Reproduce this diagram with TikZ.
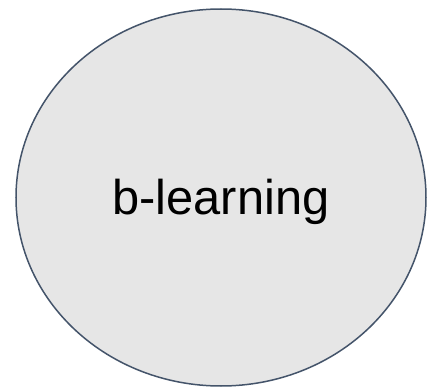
\documentclass[tikz,border=0pt]{standalone}
\usepackage{fontspec}
\setmainfont{Liberation Sans}
\usetikzlibrary{shapes.geometric}
\definecolor{ellfill}{HTML}{E6E6E6}
\definecolor{elldraw}{HTML}{44546A}
\tikzset{blob/.style={ellipse, draw=elldraw, fill=ellfill, line width=1.5bp, minimum width=410bp, minimum height=377bp, inner sep=0pt}}
\begin{document}
\begin{tikzpicture}[x=1bp,y=1bp]
\useasboundingbox (0,0) rectangle (431,388);
\node[blob] (e) at (221,190.5) {};
\node[anchor=base, font=\fontsize{49}{58}\selectfont, inner sep=0pt] (t) at (221,174) {b-learning};
\end{tikzpicture}
\end{document}
